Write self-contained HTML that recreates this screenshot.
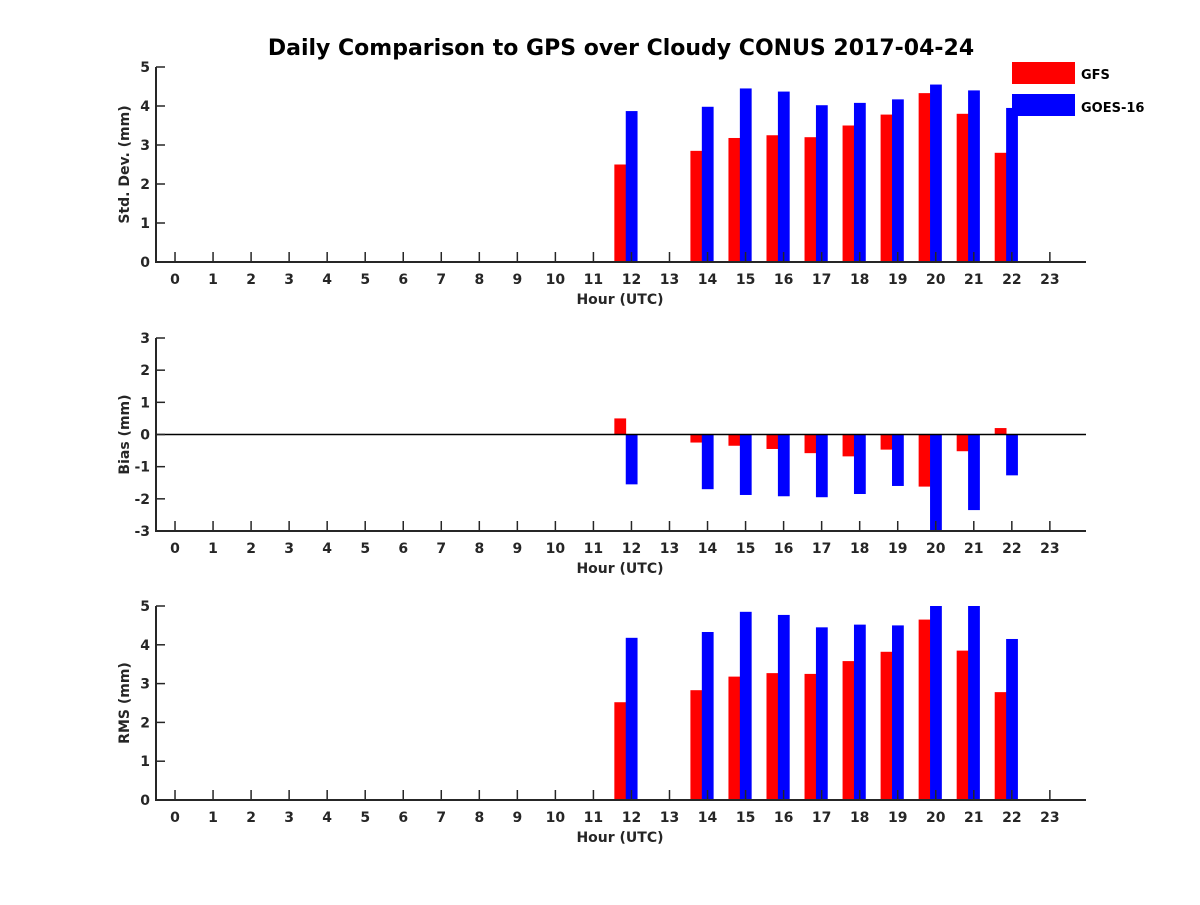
<!DOCTYPE html>
<html><head><meta charset="utf-8"><style>
body{margin:0;background:#fff}
svg text{font-family:"DejaVu Sans","Liberation Sans",sans-serif;font-weight:bold;fill:#262626}
</style></head><body>
<svg id="c" width="1200" height="900" xmlns="http://www.w3.org/2000/svg">
<rect width="1200" height="900" fill="#fff"/>
<text x="621" y="55" font-size="22" text-anchor="middle" style="fill:#000">Daily Comparison to GPS over Cloudy CONUS 2017-04-24</text>
</svg>
<script>
const hours=[0,1,2,3,4,5,6,7,8,9,10,11,12,13,14,15,16,17,18,19,20,21,22,23];
const dataHours=[12,14,15,16,17,18,19,20,21,22];
const stdGFS=[2.5,2.85,3.18,3.25,3.2,3.5,3.78,4.33,3.8,2.8];
const stdGOES=[3.87,3.98,4.45,4.37,4.02,4.08,4.17,4.55,4.4,3.95];
const biasGFS=[0.5,-0.25,-0.35,-0.45,-0.58,-0.68,-0.47,-1.62,-0.52,0.2];
const biasGOES=[-1.55,-1.7,-1.88,-1.92,-1.95,-1.85,-1.6,-3.0,-2.35,-1.27];
const rmsGFS=[2.52,2.83,3.18,3.27,3.25,3.58,3.82,4.65,3.85,2.78];
const rmsGOES=[4.18,4.33,4.85,4.77,4.45,4.52,4.5,5.0,5.0,4.15];
const stdTicks=[0,1,2,3,4,5];
const biasTicks=[-3,-2,-1,0,1,2,3];
const rmsTicks=[0,1,2,3,4,5];
const NS='http://www.w3.org/2000/svg';
const svg=document.getElementById('c');
function mk(t,a,p){const e=document.createElementNS(NS,t);for(const k in a)e.setAttribute(k,a[k]);(p||svg).appendChild(e);return e;}
const X0=156,X1=1086,xmin=-0.5,xmax=23.95;
function xs(v){return X0+(v-xmin)/(xmax-xmin)*(X1-X0);}
function panel(name,top,bot,ymin,ymax,ticks,g1,g2,ylabel,zero){
  const g=mk('g',{});
  
  
  const ys=v=>bot-(v-ymin)/(ymax-ymin)*(bot-top);
  const base=zero?ys(0):bot;
  dataHours.forEach((h,i)=>{
    [[g1,'#ff0000',-0.45,'gfs'],[g2,'#0000ff',-0.15,'goes']].forEach(([arr,col,off,s])=>{
      const v=Math.max(ymin,Math.min(ymax,arr[i]));
      const y=ys(v);
      const r=mk('rect',{x:xs(h+off),y:Math.min(y,base),width:xs(h+off+0.31)-xs(h+off),height:Math.abs(y-base),fill:col},g);
      
      
    });
  });
  if(zero){const z=mk('line',{x1:X0,x2:X1,y1:base,y2:base,stroke:'#000','stroke-width':1.5},g);
    
    }
  const ax=mk('path',{d:`M${X0},${top}V${bot}H${X1}`,stroke:'#262626','stroke-width':2,fill:'none'},g);
  
  
  ticks.forEach(t=>{
    const y=ys(t);
    mk('line',{x1:X0,x2:X0+9,y1:y,y2:y,stroke:'#262626','stroke-width':1.5},g);
    const tx=mk('text',{x:X0-6,y:y+5,'font-size':14,'text-anchor':'end'},g);
    tx.textContent=t;
    
    
  });
  hours.forEach(h=>{
    const x=xs(h);
    mk('line',{x1:x,x2:x,y1:bot,y2:bot-10,stroke:'#262626','stroke-width':1.5},g);
    const tx=mk('text',{x:x,y:bot+22,'font-size':14,'text-anchor':'middle'},g);
    tx.textContent=h;
    
    
  });
  const xl=mk('text',{x:620,y:bot+42,'font-size':14,'text-anchor':'middle'},g);
  xl.textContent='Hour (UTC)';
  
  
  const cy=(top+bot)/2;
  const yl=mk('text',{x:129,y:cy,'font-size':14,'text-anchor':'middle',transform:`rotate(-90 129 ${cy})`},g);
  yl.textContent=ylabel;
  
  
}
panel('std-dev',67,262,0,5,stdTicks,stdGFS,stdGOES,'Std. Dev. (mm)',false);
panel('bias',338,531,-3,3,biasTicks,biasGFS,biasGOES,'Bias (mm)',true);
panel('rms',606,800,0,5,rmsTicks,rmsGFS,rmsGOES,'RMS (mm)',false);
const lg=mk('g',{});


const r1=mk('rect',{x:1012,y:62,width:63,height:22,fill:'#ff0000'},lg);


const t1=mk('text',{x:1081,y:79,'font-size':13,style:'fill:#000'},lg);
t1.textContent='GFS';


const r2=mk('rect',{x:1012,y:94,width:63,height:22,fill:'#0000ff'},lg);


const t2=mk('text',{x:1081,y:112,'font-size':13,style:'fill:#000'},lg);
t2.textContent='GOES-16';


</script>
</body></html>
